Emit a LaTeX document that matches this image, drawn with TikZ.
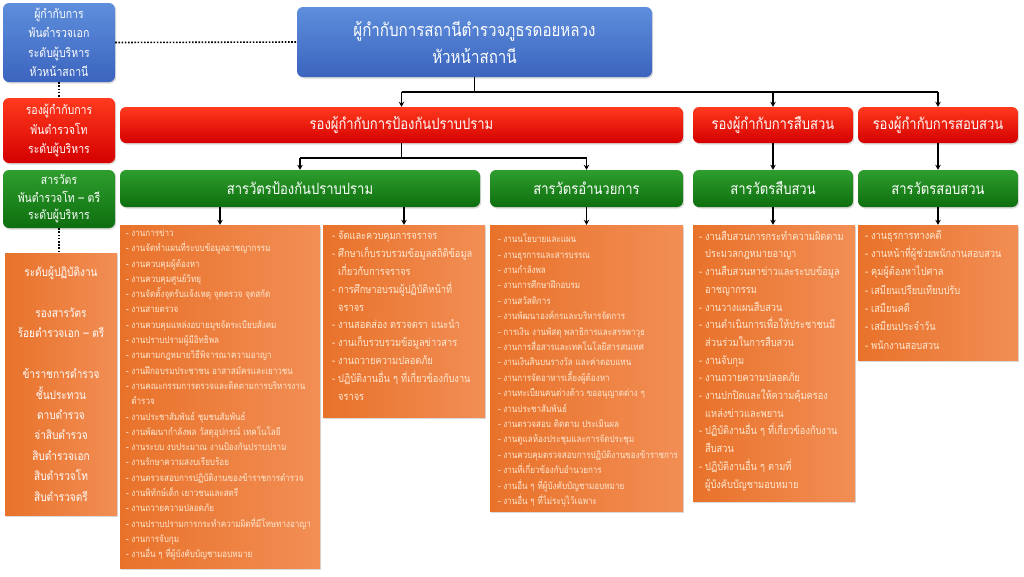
\documentclass[tikz,border=0pt]{standalone}
\usepackage{fontspec}
\setmainfont{Loma}[Script=Thai,FakeStretch=0.84]
\usetikzlibrary{shadows,arrows.meta}
\definecolor{blueT}{HTML}{5E8EDC}
\definecolor{blueB}{HTML}{3B64BE}
\definecolor{redT}{HTML}{FF3A1E}
\definecolor{redB}{HTML}{D40000}
\definecolor{greenT}{HTML}{2E9E2E}
\definecolor{greenB}{HTML}{0E6E0E}
\definecolor{orL}{HTML}{E8722A}
\definecolor{orR}{HTML}{F28E55}
\definecolor{listtxt}{HTML}{FFE8D2}
\newcommand\myind{\hphantom{- }}
\begin{document}
\begin{tikzpicture}[x=1pt,y=-1pt,
  box/.style={rounded corners=6pt, inner sep=0pt, text=white, align=center,
    drop shadow={opacity=0.3, shadow xshift=1.2pt, shadow yshift=-1.5pt}},
  bluebox/.style={box, top color=blueT, bottom color=blueB},
  redbox/.style={box, top color=redT, bottom color=redB},
  greenbox/.style={box, top color=greenT, bottom color=greenB},
  listbox/.style={inner sep=0pt, left color=orL, right color=orR, text=listtxt, align=center,
    drop shadow={opacity=0.3, shadow xshift=1.2pt, shadow yshift=-1.5pt}},
  listtext/.style={anchor=north west, align=left, text=listtxt, inner sep=0pt},
  conn/.style={line width=1.4pt, black},
  arr/.style={conn, -{Stealth[length=5pt,width=5.5pt]}},
  dotline/.style={line width=1.6pt, dash pattern=on 1.6pt off 1.6pt}
]
\useasboundingbox (0,0) rectangle (1024,576);

% left legend
\node[bluebox, minimum width=112pt, minimum height=79pt, font=\fontsize{12.5}{19.5}\selectfont] (lb) at (59,42.5)
  {ผู้กำกับการ\\พันตำรวจเอก\\ระดับผู้บริหาร\\หัวหน้าสถานี};
\node[redbox, minimum width=112pt, minimum height=65pt, font=\fontsize{12.5}{19.5}\selectfont] (lr) at (59,130.5)
  {รองผู้กำกับการ\\พันตำรวจโท\\ระดับผู้บริหาร};
\node[greenbox, minimum width=112pt, minimum height=58pt, font=\fontsize{12.5}{17.5}\selectfont] (lg) at (59,199)
  {สารวัตร\\พันตำรวจโท – ตรี\\ระดับผู้บริหาร};
\node[listbox, minimum width=112pt, minimum height=262pt, text=white, font=\fontsize{12}{20.4}\selectfont] (lo) at (61,384)
  {ระดับผู้ปฏิบัติงาน\\[20.4pt]รองสารวัตร\\ร้อยตำรวจเอก – ตรี\\[20.4pt]ข้าราชการตำรวจ\\ชั้นประทวน\\ดาบตำรวจ\\จ่าสิบตำรวจ\\สิบตำรวจเอก\\สิบตำรวจโท\\สิบตำรวจตรี};

% top
\node[bluebox, minimum width=355pt, minimum height=70pt, font=\fontsize{18}{27}\selectfont] (top) at (474.5,42)
  {ผู้กำกับการสถานีตำรวจภูธรดอยหลวง\\หัวหน้าสถานี};

% deputies
\node[redbox, minimum width=563pt, minimum height=36pt, font=\fontsize{15.5}{20}\selectfont] (r1) at (401.5,125) {รองผู้กำกับการป้องกันปราบปราม};
\node[redbox, minimum width=160pt, minimum height=36pt, font=\fontsize{15.5}{20}\selectfont] (r2) at (773,125) {รองผู้กำกับการสืบสวน};
\node[redbox, minimum width=160pt, minimum height=36pt, font=\fontsize{15.5}{20}\selectfont] (r3) at (938,125) {รองผู้กำกับการสอบสวน};

% inspectors
\node[greenbox, minimum width=360pt, minimum height=37pt, font=\fontsize{15.5}{20}\selectfont] (g1) at (300,188.5) {สารวัตรป้องกันปราบปราม};
\node[greenbox, minimum width=193pt, minimum height=37pt, font=\fontsize{15.5}{20}\selectfont] (g2) at (586.5,188.5) {สารวัตรอำนวยการ};
\node[greenbox, minimum width=160pt, minimum height=37pt, font=\fontsize{15.5}{20}\selectfont] (g3) at (773,188.5) {สารวัตรสืบสวน};
\node[greenbox, minimum width=160pt, minimum height=37pt, font=\fontsize{15.5}{20}\selectfont] (g4) at (938,188.5) {สารวัตรสอบสวน};

% task boxes
\node[listbox, minimum width=200pt, minimum height=343pt] (o1) at (220,396.5) {};
\node[listbox, minimum width=162pt, minimum height=192pt] (o2) at (404,321) {};
\node[listbox, minimum width=193pt, minimum height=286pt] (o3) at (586.5,368) {};
\node[listbox, minimum width=162pt, minimum height=276pt] (o4) at (774,363) {};
\node[listbox, minimum width=160pt, minimum height=135pt] (o5) at (938,292.5) {};

\node[listtext, font=\fontsize{9.6}{15.3}\selectfont] (t1) at ([xshift=6pt,yshift=-4pt]o1.north west)
 {- งานการข่าว\\
  - งานจัดทำแผนที่ระบบข้อมูลอาชญากรรม\\
  - งานควบคุมผู้ต้องหา\\
  - งานควบคุมศูนย์วิทยุ\\
  - งานจัดตั้งจุดรับแจ้งเหตุ จุดตรวจ จุดสกัด\\
  - งานสายตรวจ\\
  - งานควบคุมแหล่งอบายมุขจัดระเบียบสังคม\\
  - งานปราบปรามผู้มีอิทธิพล\\
  - งานตามกฎหมายวิธีพิจารณาความอาญา\\
  - งานฝึกอบรมประชาชน อาสาสมัครและเยาวชน\\
  - งานคณะกรรมการตรวจและติดตามการบริหารงาน\\
  \myind ตำรวจ\\
  - งานประชาสัมพันธ์ ชุมชนสัมพันธ์\\
  - งานพัฒนากำลังพล วัสดุอุปกรณ์ เทคโนโลยี\\
  - งานระบบ งบประมาณ งานป้องกันปราบปราม\\
  - งานรักษาความสงบเรียบร้อย\\
  - งานตรวจสอบการปฏิบัติงานของข้าราชการตำรวจ\\
  - งานพิทักษ์เด็ก เยาวชนและสตรี\\
  - งานถวายความปลอดภัย\\
  - งานปราบปรามการกระทำความผิดที่มีโทษทางอาญา\\
  - งานการจับกุม\\
  - งานอื่น ๆ ที่ผู้บังคับบัญชามอบหมาย};

\node[listtext, font=\fontsize{11}{17.8}\selectfont] (t2) at ([xshift=9pt,yshift=-6pt]o2.north west)
 {- จัดและควบคุมการจราจร\\
  - ศึกษาเก็บรวบรวมข้อมูลสถิติข้อมูล\\
  \myind เกี่ยวกับการจราจร\\
  - การศึกษาอบรมผู้ปฏิบัติหน้าที่\\
  \myind จราจร\\
  - งานสอดส่อง ตรวจตรา แนะนำ\\
  - งานเก็บรวบรวมข้อมูลข่าวสาร\\
  - งานถวายความปลอดภัย\\
  - ปฏิบัติงานอื่น ๆ ที่เกี่ยวข้องกับงาน\\
  \myind จราจร};

\node[listtext, font=\fontsize{9.6}{15.4}\selectfont] (t3) at ([xshift=8pt,yshift=-9pt]o3.north west)
 {- งานนโยบายและแผน\\
  - งานธุรการและสารบรรณ\\
  - งานกำลังพล\\
  - งานการศึกษาฝึกอบรม\\
  - งานสวัสดิการ\\
  - งานพัฒนาองค์กรและบริหารจัดการ\\
  - การเงิน งานพัสดุ พลาธิการและสรรพาวุธ\\
  - งานการสื่อสารและเทคโนโลยีสารสนเทศ\\
  - งานเงินสินบนรางวัล และค่าตอบแทน\\
  - งานการจัดอาหารเลี้ยงผู้ต้องหา\\
  - งานทะเบียนคนต่างด้าว ขออนุญาตต่าง ๆ\\
  - งานประชาสัมพันธ์\\
  - งานตรวจสอบ ติดตาม ประเมินผล\\
  - งานดูแลห้องประชุมและการจัดประชุม\\
  - งานควบคุมตรวจสอบการปฏิบัติงานของข้าราชการ\\
  - งานที่เกี่ยวข้องกับอำนวยการ\\
  - งานอื่น ๆ ที่ผู้บังคับบัญชามอบหมาย\\
  - งานอื่น ๆ ที่ไม่ระบุไว้เฉพาะ};

\node[listtext, font=\fontsize{11}{17.7}\selectfont] (t4) at ([xshift=6pt,yshift=-6pt]o4.north west)
 {- งานสืบสวนการกระทำความผิดตาม\\
  \myind ประมวลกฎหมายอาญา\\
  - งานสืบสวนหาข่าวและระบบข้อมูล\\
  \myind อาชญากรรม\\
  - งานวางแผนสืบสวน\\
  - งานดำเนินการเพื่อให้ประชาชนมี\\
  \myind ส่วนร่วมในการสืบสวน\\
  - งานจับกุม\\
  - งานถวายความปลอดภัย\\
  - งานปกปิดและให้ความคุ้มครอง\\
  \myind แหล่งข่าวและพยาน\\
  - ปฏิบัติงานอื่น ๆ ที่เกี่ยวข้องกับงาน\\
  \myind สืบสวน\\
  - ปฏิบัติงานอื่น ๆ ตามที่\\
  \myind ผู้บังคับบัญชามอบหมาย};

\node[listtext, font=\fontsize{11}{18.3}\selectfont] (t5) at ([xshift=7pt,yshift=-5pt]o5.north west)
 {- งานธุรการทางคดี\\
  - งานหน้าที่ผู้ช่วยพนักงานสอบสวน\\
  - คุมผู้ต้องหาไปศาล\\
  - เสมียนเปรียบเทียบปรับ\\
  - เสมียนคดี\\
  - เสมียนประจำวัน\\
  - พนักงานสอบสวน};

% dotted legend links
\draw[dotline] (lb.east) -- (top.west);
\draw[dotline] (lb.south) -- (lr.north);
\draw[dotline] (lg.south) -- (lg.south |- lo.north);

% connectors
\coordinate (j) at (0,92);
\coordinate (k) at (0,158);
\draw[conn] (top.south) -- (top.south |- j);
\draw[conn] (r1.north |- j) -- (r3.north |- j);
\draw[arr] (r1.north |- j) -- (r1.north);
\draw[arr] (r2.north |- j) -- (r2.north);
\draw[arr] (r3.north |- j) -- (r3.north);

\draw[conn] (r1.south) -- (r1.south |- k);
\draw[conn] (g1.north |- k) -- (g2.north |- k);
\draw[arr] (g1.north |- k) -- (g1.north);
\draw[arr] (g2.north |- k) -- (g2.north);
\draw[arr] (r2.south) -- (g3.north);
\draw[arr] (r3.south) -- (g4.north);

\draw[arr] (o1.north |- g1.south) -- (o1.north);
\draw[arr] (o2.north |- g1.south) -- (o2.north);
\draw[arr] (g2.south) -- (o3.north);
\draw[arr] (g3.south) -- (g3.south |- o4.north);
\draw[arr] (g4.south) -- (o5.north);
\end{tikzpicture}
\end{document}
